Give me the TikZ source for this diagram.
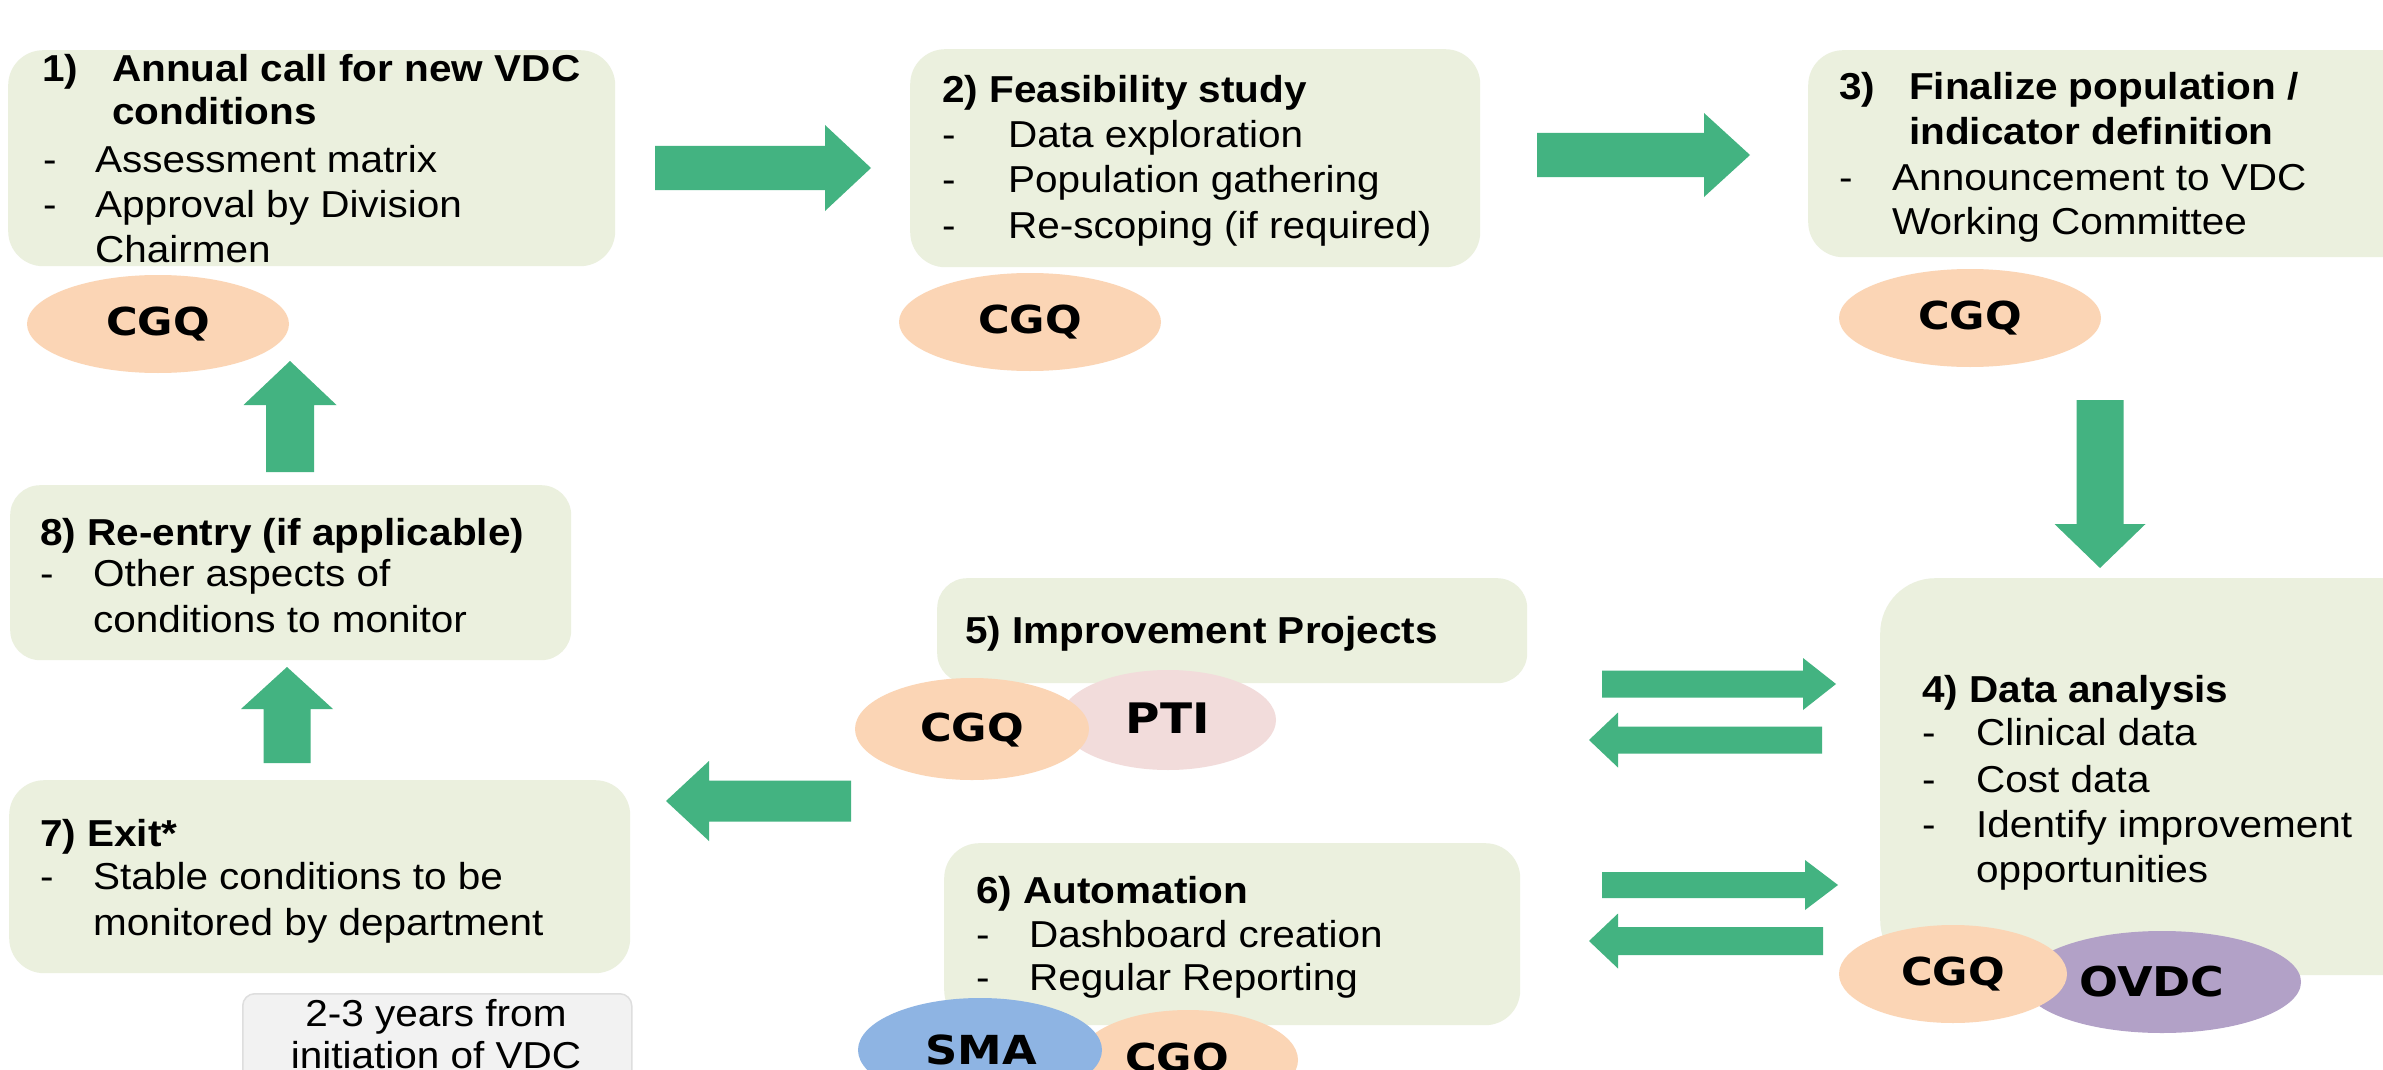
\documentclass[tikz,border=0pt]{standalone}
\usepackage{fontspec}
\setmainfont{Liberation Sans}[FakeStretch=1.08]
\newfontfamily\lblfont{DejaVu Sans}[FakeStretch=1.12]
\usetikzlibrary{shapes.geometric,calc}
\definecolor{boxgreen}{HTML}{EBF0DE}
\definecolor{arrowgreen}{HTML}{43B381}
\definecolor{cgqcol}{HTML}{FBD5B5}
\definecolor{pticol}{HTML}{F2DCDB}
\definecolor{smacol}{HTML}{8EB4E3}
\definecolor{ovdccol}{HTML}{B2A1C7}
\definecolor{notefill}{HTML}{F2F2F2}
\definecolor{noteline}{HTML}{DEDEDE}
\tikzset{
  stepbox/.style={fill=boxgreen, draw=none, inner sep=0pt, anchor=north west},
  txt/.style={font=\fontsize{37.5}{44}\selectfont, anchor=base west, inner sep=0pt},
  ttl/.style={font=\fontsize{37.5}{44}\selectfont\bfseries, anchor=base west, inner sep=0pt},
  blob/.style={ellipse, draw=none, inner sep=0pt},
  blobtxt/.style={font=\lblfont\bfseries\fontsize{38.5}{42}\selectfont},
  garrow/.style={fill=arrowgreen, draw=none},
  notebox/.style={fill=notefill, draw=noteline, line width=1.5pt, rounded corners=12pt, inner sep=0pt, anchor=north west}
}
% #1 start, #2 end, #3 ux, #4 uy, #5 shaft half width, #6 head half width, #7 head length
\newcommand\blockarrow[7]{%
  \fill[garrow]
   ($(#1)+({-(#4)*(#5)},{(#3)*(#5)})$) --
   ($(#2)+({-(#3)*(#7)-(#4)*(#5)},{-(#4)*(#7)+(#3)*(#5)})$) --
   ($(#2)+({-(#3)*(#7)-(#4)*(#6)},{-(#4)*(#7)+(#3)*(#6)})$) --
   (#2) --
   ($(#2)+({-(#3)*(#7)+(#4)*(#6)},{-(#4)*(#7)-(#3)*(#6)})$) --
   ($(#2)+({-(#3)*(#7)+(#4)*(#5)},{-(#4)*(#7)-(#3)*(#5)})$) --
   ($(#1)+({(#4)*(#5)},{-(#3)*(#5)})$) -- cycle;}
\begin{document}
\begin{tikzpicture}[x=1pt,y=-1pt]
\useasboundingbox (0,0) rectangle (2383,1070);
\clip (0,0) rectangle (2383,1070);
\fill[white] (0,0) rectangle (2383,1070);

% ---------- Box 1
\node[stepbox, rounded corners=35pt, minimum width=607pt, minimum height=216pt] (b1) at (8,50) {};
\node[ttl] (b1n) at (42,82) {1)};
\node[ttl] (b1t1) at (112,82) {Annual call for new VDC};
\node[ttl] (b1t2) at (112,125) {conditions};
\node[txt] (b1d1) at (43,172) {-};
\node[txt] (b1l1) at (95,172) {Assessment matrix};
\node[txt] (b1d2) at (43,217) {-};
\node[txt] (b1l2) at (95,217) {Approval by Division};
\node[txt] (b1l3) at (95,262) {Chairmen};
\node[blob, fill=cgqcol, minimum width=262pt, minimum height=98pt] (e1) at (158,324) {};
\node[blobtxt] (e1t) at (158,324) {CGQ};

% ---------- Box 2
\node[stepbox, rounded corners=35pt, minimum width=570pt, minimum height=218pt] (b2) at (910,49) {};
\node[ttl] (b2t) at (942,103) {2) Feasibility study};
\node[txt] (b2d1) at (942,147) {-};
\node[txt] (b2l1) at (1008,147) {Data exploration};
\node[txt] (b2d2) at (942,193) {-};
\node[txt] (b2l2) at (1008,193) {Population gathering};
\node[txt] (b2d3) at (942,238) {-};
\node[txt] (b2l3) at (1008,238) {Re-scoping (if required)};
\node[blob, fill=cgqcol, minimum width=262pt, minimum height=98pt] (e2) at (1030,322) {};
\node[blobtxt] (e2t) at (1030,322) {CGQ};

% ---------- Box 3
\node[stepbox, rounded corners=35pt, minimum width=640pt, minimum height=207pt] (b3) at (1808,50) {};
\node[ttl] (b3n) at (1839,100) {3)};
\node[ttl] (b3t1) at (1909,100) {Finalize population /};
\node[ttl] (b3t2) at (1909,145) {indicator definition};
\node[txt] (b3d1) at (1839,190) {-};
\node[txt] (b3l1) at (1892,190) {Announcement to VDC};
\node[txt] (b3l2) at (1892,234) {Working Committee};
\node[blob, fill=cgqcol, minimum width=262pt, minimum height=98pt] (e3) at (1970,318) {};
\node[blobtxt] (e3t) at (1970,318) {CGQ};

% ---------- Box 4
\node[stepbox, rounded corners=55pt, minimum width=600pt, minimum height=397pt] (b4) at (1880,578) {};
\node[ttl] (b4t) at (1922,702) {4) Data analysis};
\node[txt] (b4d1) at (1922,745) {-};
\node[txt] (b4l1) at (1976,745) {Clinical data};
\node[txt] (b4d2) at (1922,792) {-};
\node[txt] (b4l2) at (1976,792) {Cost data};
\node[txt] (b4d3) at (1922,837) {-};
\node[txt] (b4l3) at (1976,837) {Identify improvement};
\node[txt] (b4l4) at (1976,882) {opportunities};
\node[blob, fill=ovdccol, minimum width=278pt, minimum height=102pt] (e4b) at (2162,982) {};
\node[blobtxt, font=\lblfont\bfseries\fontsize{41}{44}\selectfont] (e4bt) at (2152,982) {OVDC};
\node[blob, fill=cgqcol, minimum width=228pt, minimum height=98pt] (e4a) at (1953,974) {};
\node[blobtxt] (e4at) at (1953,974) {CGQ};

% ---------- Box 5
\node[stepbox, rounded corners=30pt, minimum width=590pt, minimum height=105pt] (b5) at (937,578) {};
\node[ttl] (b5t) at (965,643) {5) Improvement Projects};
\node[blob, fill=pticol, minimum width=216pt, minimum height=100pt] (e5b) at (1168,720) {};
\node[blobtxt, font=\lblfont\bfseries\fontsize{42}{44}\selectfont] (e5bt) at (1168,718) {PTI};
\node[blob, fill=cgqcol, minimum width=234pt, minimum height=102pt] (e5a) at (972,729) {};
\node[blobtxt] (e5at) at (972,730) {CGQ};

% ---------- Box 6
\node[stepbox, rounded corners=35pt, minimum width=576pt, minimum height=182pt] (b6) at (944,843) {};
\node[ttl] (b6t) at (976,903) {6) Automation};
\node[txt] (b6d1) at (976,947) {-};
\node[txt] (b6l1) at (1029,947) {Dashboard creation};
\node[txt] (b6d2) at (976,990) {-};
\node[txt] (b6l2) at (1029,990) {Regular Reporting};
\node[blob, fill=cgqcol, minimum width=220pt, minimum height=100pt] (e6b) at (1188,1060) {};
\node[blobtxt] (e6bt) at (1177,1060) {CGQ};
\node[blob, fill=smacol, minimum width=244pt, minimum height=104pt] (e6a) at (980,1050) {};
\node[blobtxt, font=\lblfont\bfseries\fontsize{40}{44}\selectfont] (e6at) at (981,1050) {SMA};

% ---------- Box 7
\node[stepbox, rounded corners=35pt, minimum width=621pt, minimum height=193pt] (b7) at (9,780) {};
\node[ttl] (b7t) at (40,846) {7) Exit*};
\node[txt] (b7d1) at (40,889) {-};
\node[txt] (b7l1) at (93,889) {Stable conditions to be};
\node[txt] (b7l2) at (93,935) {monitored by department};

% ---------- Box 8
\node[stepbox, rounded corners=30pt, minimum width=561pt, minimum height=175pt] (b8) at (10,485) {};
\node[ttl] (b8t) at (40,545) {8) Re-entry (if applicable)};
\node[txt] (b8d1) at (40,586) {-};
\node[txt] (b8l1) at (93,586) {Other aspects of};
\node[txt] (b8l2) at (93,632) {conditions to monitor};

% ---------- Note
\node[notebox, minimum width=389pt, minimum height=110pt] (nb) at (242,993) {};
\node[txt, anchor=base] (nbl1) at (436,1026) {2-3 years from};
\node[txt, anchor=base] (nbl2) at (436,1068) {initiation of VDC};

% ---------- Arrows
\coordinate (a12s) at (655,168);  \coordinate (a12e) at (871,168);
\coordinate (a23s) at (1537,155); \coordinate (a23e) at (1750,155);
\coordinate (a34s) at (2100,400); \coordinate (a34e) at (2100,568);
\coordinate (a54s) at (1602,684); \coordinate (a54e) at (1836,684);
\coordinate (a45s) at (1822,740); \coordinate (a45e) at (1589,740);
\coordinate (a64s) at (1602,885); \coordinate (a64e) at (1838,885);
\coordinate (a46s) at (1823,941); \coordinate (a46e) at (1589,941);
\coordinate (a57s) at (851,801);  \coordinate (a57e) at (666,801);
\coordinate (a78s) at (287,763);  \coordinate (a78e) at (287,667);
\coordinate (a81s) at (290,472);  \coordinate (a81e) at (290,361);

\blockarrow{a12s}{a12e}{1}{0}{22}{43}{46}
\blockarrow{a23s}{a23e}{1}{0}{22}{42}{46}
\blockarrow{a34s}{a34e}{0}{1}{23.5}{45.5}{44}
\blockarrow{a54s}{a54e}{1}{0}{13.5}{26}{33}
\blockarrow{a45s}{a45e}{-1}{0}{13.5}{27.5}{29}
\blockarrow{a64s}{a64e}{1}{0}{13}{25}{33}
\blockarrow{a46s}{a46e}{-1}{0}{14}{27.5}{29}
\blockarrow{a57s}{a57e}{-1}{0}{20.5}{40}{43}
\blockarrow{a78s}{a78e}{0}{-1}{23.5}{46}{42}
\blockarrow{a81s}{a81e}{0}{-1}{24}{46.5}{44}
\end{tikzpicture}
\end{document}
